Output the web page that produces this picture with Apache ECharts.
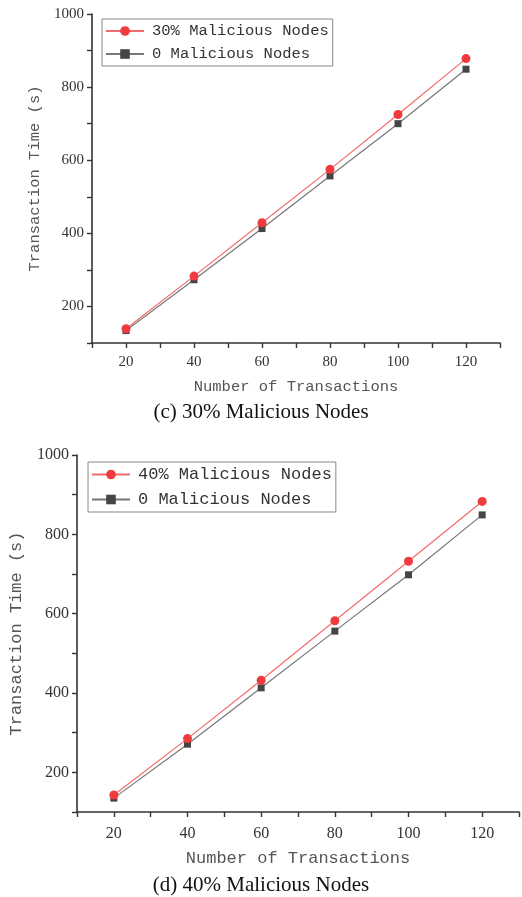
<!DOCTYPE html>
<html>
<head>
<meta charset="utf-8">
<script src="https://cdn.jsdelivr.net/npm/echarts@6/dist/echarts.min.js"></script>
<style>
  html, body { margin: 0; padding: 0; background: #fff; }
  #chart { width: 522px; height: 897px; }
</style>
</head>
<body>
<div id="chart"></div>
<script>
// transactions on x axis, same for both panels
const transactions = [20, 40, 60, 80, 100, 120];

// panel (c)
const malicious30 = [139, 283, 429, 575, 725, 878];
const baseC = [134, 273, 413, 557, 700, 849];

// panel (d)
const malicious40 = [143, 285, 432, 582, 732, 883];
const baseD = [135, 271, 413, 556, 698, 849];

const yTicks = [200, 400, 600, 800, 1000];
const xTicks = [20, 40, 60, 80, 100, 120];

const monoFont = 'Liberation Mono';
const serifFont = 'Liberation Serif';

const RED = '#ef3a3e';
const RED_LINE = '#f26b6b';
const GREY = '#454545';
const GREY_LINE = '#777';

function pairs (xs, ys) {
  return xs.map((x, i) => [x, ys[i]]);
}

function xAxisFor (idx, fs) {
  return {
    type: 'value', gridIndex: idx,
    min: 10, max: 130, interval: 10,
    name: 'Number of Transactions', nameLocation: 'middle', nameGap: idx ? 38 : 36,
    nameTextStyle: {fontFamily: monoFont, fontSize: fs, color: '#555'},
    axisLine: {lineStyle: {color: '#333', width: 1.6}},
    axisTick: {length: 5, lineStyle: {color: '#333', width: 1.4}},
    axisLabel: {
      fontFamily: serifFont, fontSize: idx ? 16 : 15, color: '#333', margin: idx ? 14 : 12,
      formatter: v => xTicks.indexOf(v) >= 0 ? String(v) : ''
    },
    splitLine: {show: false},
  };
}

function yAxisFor (idx, fs) {
  return {
    type: 'value', gridIndex: idx,
    min: 100, max: 1000, interval: 100,
    name: 'Transaction Time (s)', nameLocation: 'middle', nameGap: idx ? 52 : 48,
    nameTextStyle: {fontFamily: monoFont, fontSize: fs, color: '#555'},
    axisLine: {show: true, lineStyle: {color: '#333', width: 1.6}},
    axisTick: {show: true, length: 5, lineStyle: {color: '#333', width: 1.4}},
    axisLabel: {
      fontFamily: serifFont, fontSize: idx ? 16 : 15, color: '#333', margin: 8,
      formatter: v => yTicks.indexOf(v) >= 0 ? String(v) : ''
    },
    splitLine: {show: false},
  };
}

function lineSeries (name, idx, data, isRed) {
  return {
    name, type: 'line', xAxisIndex: idx, yAxisIndex: idx,
    data: pairs(transactions, data),
    symbol: isRed ? 'circle' : 'rect',
    symbolSize: isRed ? 9 : 7,
    itemStyle: {color: isRed ? RED : GREY},
    lineStyle: {color: isRed ? RED_LINE : GREY_LINE, width: 1.2},
    z: isRed ? 3 : 2,
  };
}

function legendFor (names, left, top, fs, gap) {
  return {
    data: names, left, top, orient: 'vertical',
    itemWidth: 38, itemHeight: 12, itemGap: gap,
    padding: [4, 4, 4, 3],
    borderColor: '#888', borderWidth: 1,
    textStyle: {fontFamily: monoFont, fontSize: fs, color: '#333', padding: [0, 0, 0, 3]},
    selectedMode: false,
  };
}

const chart = echarts.init(document.getElementById('chart'));
chart.setOption({
  animation: false,
  backgroundColor: '#fff',
  title: [
    {text: '(c) 30% Malicious Nodes', left: 'center', top: 397,
     textStyle: {fontFamily: serifFont, fontWeight: 'normal', fontSize: 21, color: '#111'}},
    {text: '(d) 40% Malicious Nodes', left: 'center', top: 870,
     textStyle: {fontFamily: serifFont, fontWeight: 'normal', fontSize: 21, color: '#111'}},
  ],
  legend: [
    legendFor(['30% Malicious Nodes', '0 Malicious Nodes'], 102, 19, 15.5, 7),
    legendFor(['40% Malicious Nodes', '0 Malicious Nodes '], 88, 462, 17, 8),
  ],
  grid: [
    {left: 92, top: 14, width: 408, height: 329},
    {left: 77, top: 455, width: 443, height: 357},
  ],
  xAxis: [xAxisFor(0, 15.5), xAxisFor(1, 17)],
  yAxis: [yAxisFor(0, 15.5), yAxisFor(1, 17)],
  series: [
    lineSeries('0 Malicious Nodes', 0, baseC, false),
    lineSeries('30% Malicious Nodes', 0, malicious30, true),
    lineSeries('0 Malicious Nodes ', 1, baseD, false),
    lineSeries('40% Malicious Nodes', 1, malicious40, true),
  ],
});
</script>
</body>
</html>
